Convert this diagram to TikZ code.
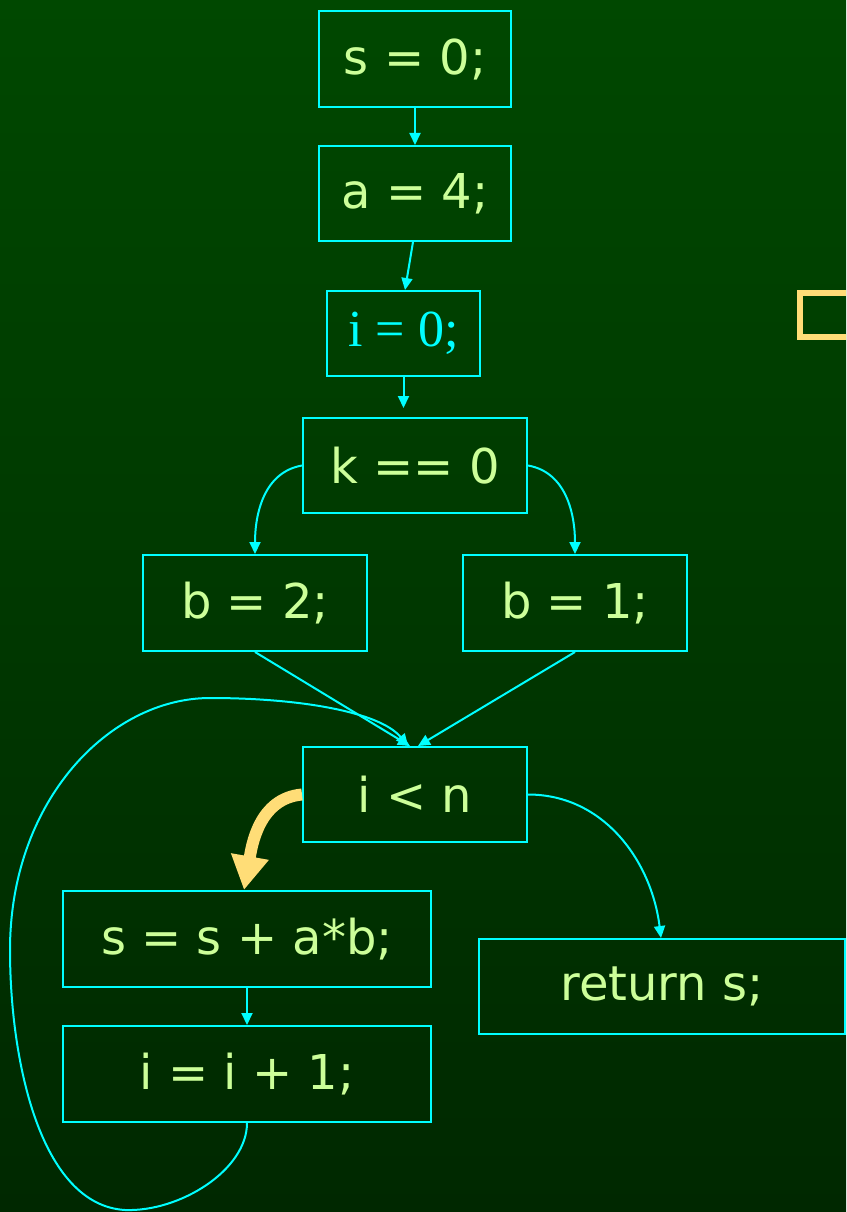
\documentclass[tikz,border=0pt]{standalone}
\usepackage{fontspec}
\setmainfont{DejaVu Sans}
\newfontfamily\serifi{Liberation Serif}
\usetikzlibrary{arrows.meta}
\definecolor{bgtop}{RGB}{0,72,0}
\definecolor{bgbot}{RGB}{0,40,0}
\definecolor{lcyan}{RGB}{0,255,255}
\definecolor{lgreen}{RGB}{204,255,153}
\definecolor{lyel}{RGB}{255,221,119}
\begin{document}
\begin{tikzpicture}[x=1pt,y=-1pt,
  box/.style={rectangle,draw=lcyan,line width=2pt,inner sep=0pt,text=lgreen,
    font=\fontsize{48}{54}\selectfont},
  conn/.style={draw=lcyan,line width=2pt,-{Triangle[length=12pt,width=11pt]}},
  hot/.style={draw=lyel,line width=12pt,-{Triangle[length=34pt,width=36pt]}}]
\useasboundingbox (0,0) rectangle (846,1212);
\clip (0,0) rectangle (846,1212);
\shade[top color=bgtop,bottom color=bgbot] (0,0) rectangle (846,1212);

\node[box,minimum width=192pt,minimum height=96pt] (s0) at (415,59) {s = 0;};
\node[box,minimum width=192pt,minimum height=95pt] (a4) at (415,193.5) {a = 4;};
\node[box,minimum width=153pt,minimum height=85pt,text=lcyan,
  font=\serifi\fontsize{52}{56}\selectfont] (i0) at (403.5,333.5) {i = 0;};
\node[box,minimum width=224pt,minimum height=95pt] (k) at (415,465.5) {k == 0};
\node[box,minimum width=224pt,minimum height=96pt] (b2) at (255,603) {b = 2;};
\node[box,minimum width=224pt,minimum height=96pt] (b1) at (575,603) {b = 1;};
\node[box,minimum width=224pt,minimum height=95pt] (lt) at (415,794.5) {i < n};
\node[box,minimum width=368pt,minimum height=96pt] (ss) at (247,939) {s = s + a*b;};
\node[box,minimum width=368pt,minimum height=96pt] (ii) at (247,1074) {i = i + 1;};
\node[box,minimum width=366pt,minimum height=95pt] (ret) at (662,986.5) {return s;};
\coordinate (kin) at (403.5,408);

\draw[lyel,line width=6pt] (800,293) rectangle (880,337);

\draw[conn] (s0.south) -- (a4.north);
\draw[conn] ([xshift=-2pt]a4.south) -- ([xshift=1.5pt]i0.north);
\draw[conn] (i0.south) -- (kin);
\draw[conn] (k.west) to[out=190,in=90] (b2.north);
\draw[conn] (k.east) to[out=-10,in=90] (b1.north);
\draw[conn] (b2.south) -- ([xshift=-5pt]lt.north);
\draw[conn] (b1.south) -- ([xshift=3pt]lt.north);
\draw[conn] (lt.east) to[out=0,in=97] ([xshift=-1pt]ret.north);
\draw[conn] (ss.south) -- (ii.north);
\draw[conn] (ii.south) .. controls (247,1170) and (180,1212) .. (125,1210)
  .. controls (40,1205) and (10,1060) .. (10,950)
  .. controls (10,800) and (110,698) .. (210,698)
  .. controls (300,698) and (380,712) .. ([xshift=-7pt]lt.north);
\draw[hot] (lt.west) to[out=185,in=80] ([xshift=-3pt]ss.north);
\end{tikzpicture}
\end{document}
